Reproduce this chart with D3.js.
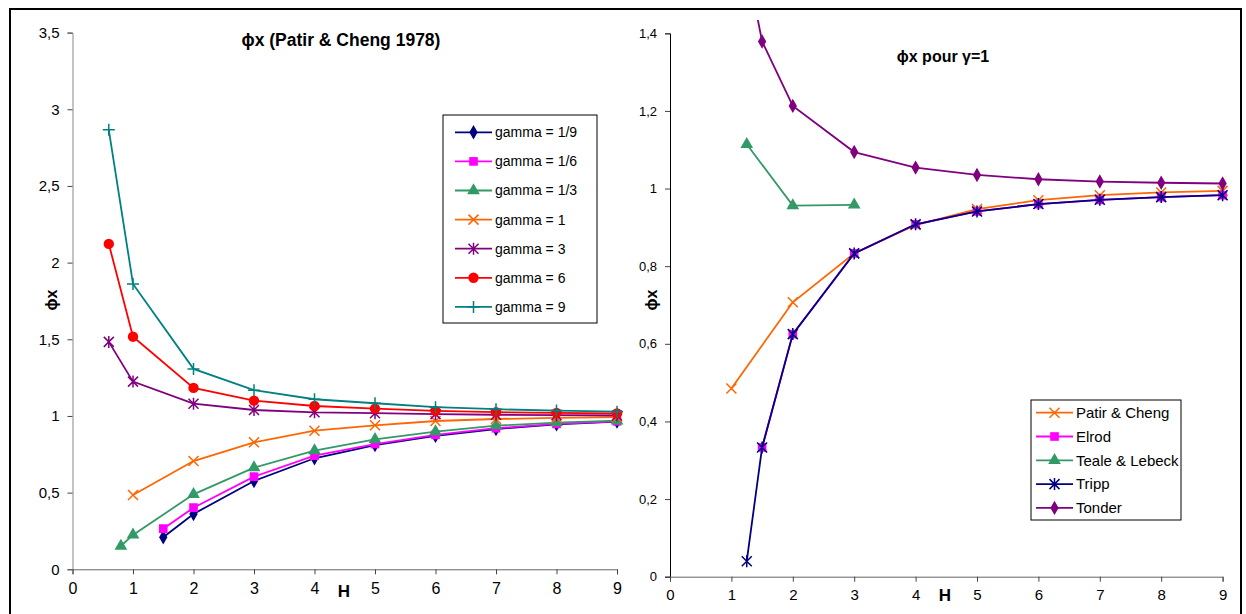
<!DOCTYPE html>
<head>
  <meta charset="utf-8">
  <style>
  body { margin: 0; background: #fff; }
  text { font-family: Arial, 'Liberation Sans', sans-serif; }
  .tick text { fill: #000; }
  .title { font-weight: bold; }
  </style>
</head>
<body>
  <svg id="chart"></svg>
  <script src="https://cdnjs.cloudflare.com/ajax/libs/d3/7.8.5/d3.min.js"></script>
  <script>

  var width = 1246,
      height = 614;

  // Left chart: phi x for several gamma (Patir & Cheng 1978)
  var leftNames = ['gamma = 1/9', 'gamma = 1/6', 'gamma = 1/3', 'gamma = 1', 'gamma = 3', 'gamma = 6', 'gamma = 9'];
  var leftH = [
    [1.5, 2, 3, 4, 5, 6, 7, 8, 9],
    [1.5, 2, 3, 4, 5, 6, 7, 8, 9],
    [0.8, 1, 2, 3, 4, 5, 6, 7, 8, 9],
    [1, 2, 3, 4, 5, 6, 7, 8, 9],
    [0.6, 1, 2, 3, 4, 5, 6, 7, 8, 9],
    [0.6, 1, 2, 3, 4, 5, 6, 7, 8, 9],
    [0.6, 1, 2, 3, 4, 5, 6, 7, 8, 9]
  ];
  var leftPhi = [
    [0.209, 0.361, 0.576, 0.724, 0.810, 0.870, 0.915, 0.945, 0.963],
    [0.265, 0.402, 0.604, 0.741, 0.817, 0.877, 0.920, 0.948, 0.965],
    [0.152, 0.224, 0.489, 0.663, 0.774, 0.848, 0.898, 0.937, 0.956, 0.969],
    [0.485, 0.706, 0.828, 0.904, 0.939, 0.967, 0.980, 0.988, 0.993],
    [1.483, 1.224, 1.080, 1.039, 1.024, 1.018, 1.012, 1.008, 1.005, 1.003],
    [2.122, 1.517, 1.183, 1.100, 1.065, 1.048, 1.033, 1.025, 1.020, 1.016],
    [2.866, 1.861, 1.307, 1.168, 1.109, 1.083, 1.057, 1.044, 1.035, 1.028]
  ];
  var leftColors = ['#000080', '#ff00ff', '#339966', '#ff6600', '#800080', '#ff0000', '#008080'];
  var leftMarkers = ['diamond', 'square', 'triangle', 'cross', 'star', 'circle', 'plus'];
  var leftYTicks = [0, 0.5, 1, 1.5, 2, 2.5, 3, 3.5];

  // Right chart: phi x for gamma = 1, several authors
  var rightNames = ['Patir & Cheng', 'Elrod', 'Teale & Lebeck', 'Tripp', 'Tonder'];
  var rightH = [
    [1, 2, 3, 4, 5, 6, 7, 8, 9],
    [1.5, 2, 3, 4, 5, 6, 7, 8, 9],
    [1.25, 2, 3],
    [1.25, 1.5, 2, 3, 4, 5, 6, 7, 8, 9],
    [1.25, 1.5, 2, 3, 4, 5, 6, 7, 8, 9]
  ];
  var rightPhi = [
    [0.485, 0.707, 0.833, 0.906, 0.947, 0.970, 0.983, 0.990, 0.994],
    [0.333, 0.625, 0.833, 0.908, 0.941, 0.960, 0.971, 0.978, 0.983],
    [1.114, 0.956, 0.958],
    [0.040, 0.333, 0.625, 0.833, 0.908, 0.941, 0.960, 0.971, 0.978, 0.983],
    [1.58, 1.379, 1.213, 1.094, 1.054, 1.035, 1.024, 1.018, 1.015, 1.013]
  ];
  var rightColors = ['#ff6600', '#ff00ff', '#339966', '#000080', '#800080'];
  var rightMarkers = ['cross', 'square', 'triangle', 'star', 'diamond'];
  var rightYTicks = [0, 0.2, 0.4, 0.6, 0.8, 1, 1.2, 1.4];

  var xTicks = [0, 1, 2, 3, 4, 5, 6, 7, 8, 9];

  var svg = d3.select('#chart')
    .attr('width', width)
    .attr('height', height);

  // outer frame
  svg.append('rect')
    .attr('x', 10).attr('y', 9)
    .attr('width', 1231).attr('height', 620)
    .attr('fill', 'none')
    .attr('stroke', '#000')
    .attr('stroke-width', 2);

  function commaFmt(d) { return String(d).replace('.', ','); }

  // draw a marker of a given kind at 0,0
  function marker(sel, kind, color) {
    if (kind === 'cross') {
      sel.append('path').attr('d', 'M-5,-5L5,5M-5,5L5,-5')
        .attr('stroke', color).attr('stroke-width', 1.5).attr('fill', 'none');
    } else if (kind === 'plus') {
      sel.append('path').attr('d', 'M-6,0L6,0M0,-6L0,6')
        .attr('stroke', color).attr('stroke-width', 1.5).attr('fill', 'none');
    } else if (kind === 'star') {
      sel.append('path').attr('d', 'M-5,-5L5,5M-5,5L5,-5M0,-6L0,6')
        .attr('stroke', color).attr('stroke-width', 1.5).attr('fill', 'none');
    } else {
      var type = { diamond: d3.symbolDiamond, square: d3.symbolSquare, triangle: d3.symbolTriangle, circle: d3.symbolCircle }[kind];
      var size = { diamond: 60, square: 75, triangle: 70, circle: 85 }[kind];
      sel.append('path').attr('d', d3.symbol().type(type).size(size)())
        .attr('fill', color);
    }
  }

  function drawChart(o) {
    var x = d3.scaleLinear().domain([0, 9]).range(o.xRange);
    var y = d3.scaleLinear().domain(o.yDomain).range(o.yRange);

    var g = svg.append('g');

    // clip for the plot area
    var clipId = 'clip-' + o.id;
    g.append('clipPath').attr('id', clipId)
      .append('rect')
        .attr('x', o.xRange[0]).attr('y', o.clipTop)
        .attr('width', o.xRange[1] - o.xRange[0] + 10)
        .attr('height', o.yRange[0] - o.clipTop);

    var yAxis = g.append('g')
      .attr('transform', 'translate(' + o.xRange[0] + ',0)')
      .call(d3.axisLeft(y).tickValues(o.yTicks).tickFormat(commaFmt).tickSizeOuter(0).tickSize(5).tickPadding(8));
    yAxis.select('.domain').attr('stroke', o.yAxisColor);
    yAxis.selectAll('.tick text').style('font-size', o.yFont + 'px');

    var xAxis = g.append('g')
      .attr('transform', 'translate(0,' + o.yRange[0] + ')')
      .call(d3.axisBottom(x).tickValues(xTicks).tickFormat(commaFmt).tickSizeOuter(0).tickSize(5).tickPadding(8));
    xAxis.select('.domain').attr('stroke', '#666');
    xAxis.selectAll('.tick line').attr('stroke', '#444');
    yAxis.selectAll('.tick line').attr('stroke', '#444');
    xAxis.selectAll('.tick text').style('font-size', o.xFont + 'px');

    // axis titles
    g.append('text')
      .attr('class', 'title')
      .attr('x', o.hPos[0]).attr('y', o.hPos[1])
      .attr('text-anchor', 'middle')
      .style('font-size', '17px')
      .text('H');

    g.append('text')
      .attr('class', 'title')
      .attr('transform', 'translate(' + o.phiPos[0] + ',' + o.phiPos[1] + ')rotate(-90)')
      .attr('text-anchor', 'middle')
      .style('font-size', '16px')
      .text('ϕx');

    g.append('text')
      .attr('class', 'title')
      .attr('x', o.titlePos[0]).attr('y', o.titlePos[1])
      .attr('text-anchor', 'middle')
      .style('font-size', o.titleFont + 'px')
      .text(o.title);

    var line = d3.line()
      .x(function(d) { return x(d[0]); })
      .y(function(d) { return y(d[1]); });

    var plot = g.append('g').attr('clip-path', 'url(#' + clipId + ')');

    o.names.forEach(function(name, i) {
      var pts = o.hs[i].map(function(h, j) { return [h, o.vals[i][j]]; });
      var s = plot.append('g');
      s.append('path')
        .datum(pts)
        .attr('d', line)
        .attr('fill', 'none')
        .attr('stroke', o.colors[i])
        .attr('stroke-width', 1.8);
      pts.forEach(function(p) {
        if (p[1] > o.yDomain[1]) return;
        var m = s.append('g').attr('transform', 'translate(' + x(p[0]) + ',' + y(p[1]) + ')');
        marker(m, o.markers[i], o.colors[i]);
      });
    });

    // legend
    var lg = g.append('g').attr('class', 'legend');
    lg.append('rect')
      .attr('x', o.legend.x).attr('y', o.legend.y)
      .attr('width', o.legend.w).attr('height', o.legend.h)
      .attr('fill', '#fff')
      .attr('stroke', '#000');
    o.names.forEach(function(name, i) {
      var cy = o.legend.y0 + i * o.legend.step;
      var lx = o.legend.x + o.legend.pad;
      lg.append('line')
        .attr('x1', lx).attr('x2', lx + 37)
        .attr('y1', cy).attr('y2', cy)
        .attr('stroke', o.colors[i]).attr('stroke-width', 1.8);
      var m = lg.append('g').attr('transform', 'translate(' + (lx + 18.5) + ',' + cy + ')');
      marker(m, o.markers[i], o.colors[i]);
      lg.append('text')
        .attr('x', lx + 40).attr('y', cy)
        .attr('dy', '0.35em')
        .style('font-size', o.legend.font + 'px')
        .text(name);
    });
  }

  drawChart({
    id: 'left',
    xRange: [72.5, 617],
    yDomain: [0, 3.5],
    yRange: [569.3, 32.6],
    clipTop: 20,
    yTicks: leftYTicks,
    yAxisColor: '#888',
    yFont: 15, xFont: 16, titleFont: 17.5,
    names: leftNames, hs: leftH, vals: leftPhi,
    colors: leftColors, markers: leftMarkers,
    title: 'ϕx (Patir & Cheng 1978)',
    titlePos: [341, 46],
    hPos: [344, 597],
    phiPos: [57, 300],
    legend: { x: 443, y: 115, w: 154, h: 208, y0: 132.3, step: 29.1, font: 14, pad: 12 }
  });

  drawChart({
    id: 'right',
    xRange: [670, 1222.6],
    yDomain: [0, 1.4],
    yRange: [576.7, 33.3],
    clipTop: 20,
    yTicks: rightYTicks,
    yAxisColor: '#000',
    yFont: 13, xFont: 15, titleFont: 16,
    names: rightNames, hs: rightH, vals: rightPhi,
    colors: rightColors, markers: rightMarkers,
    title: 'ϕx pour γ=1',
    titlePos: [943, 62],
    hPos: [945, 601],
    phiPos: [657, 300],
    legend: { x: 1031, y: 400, w: 150, h: 120, y0: 412.7, step: 23.8, font: 15, pad: 5 }
  });

  </script>
</body>
